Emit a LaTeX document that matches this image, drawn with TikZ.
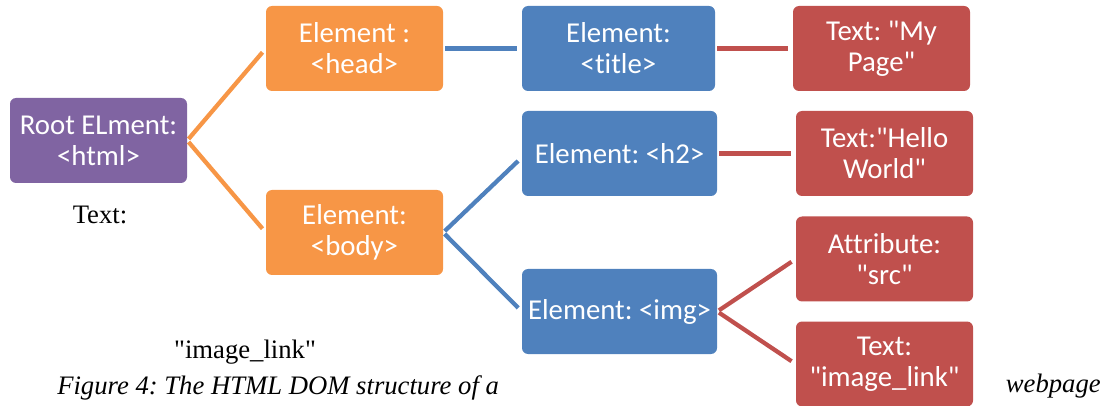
\documentclass[tikz,border=0pt]{standalone}
\usepackage{fontspec}
\setmainfont[Ligatures=NoCommon]{Liberation Serif}
\newfontfamily\boxfont[Ligatures=NoCommon]{Carlito}
\frenchspacing
\begin{document}
\begin{tikzpicture}[
  x=0.75pt, y=-0.75pt,
  box/.style={rounded corners=4.5pt, draw=none, text=white, align=center,
    inner sep=0pt, minimum height=63.75pt,
    font=\boxfont\fontsize{21.6}{23.25}\selectfont},
  wide/.style={minimum width=132.75pt},
  wider/.style={minimum width=146.25pt},
  root/.style={box, wide, fill=rootpurple},
  lvlone/.style={box, wide, fill=elemorange},
  lvltwo/.style={box, wider, fill=elemblue},
  leaf/.style={box, wide, fill=leafred},
  link/.style={line width=3.2pt, shorten <=1.5pt, shorten >=3.75pt},
  note/.style={font=\fontsize{20}{22}\selectfont, inner sep=0pt}
]
\definecolor{rootpurple}{HTML}{8064A2}
\definecolor{elemorange}{HTML}{F79646}
\definecolor{elemblue}{HTML}{4F81BD}
\definecolor{leafred}{HTML}{C0504D}
\newcommand{\dq}{\textquotedbl}

\useasboundingbox (0,0) rectangle (1104,406);

% tree nodes
\node[root]   (html)  at (98.5,140.5)  {Root ELment:\\<html>};
\node[lvlone] (head)  at (354.5,48.5)  {Element :\\<head>};
\node[lvlone] (body)  at (354.5,232.5) {Element:\\<body>};
\node[lvltwo, minimum width=144.75pt] (title) at (618.5,48.5) {Element:\\<title>};
\node[lvltwo] (h2)    at (619.5,153.5) {Element: <h2>};
\node[lvltwo] (img)   at (619.5,311.5) {Element: <img>};
\node[leaf]   (mypage) at (881.5,48.5)  {Text: \dq My\\Page\dq};
\node[leaf]   (hello)  at (884.5,153.5) {Text:\dq Hello\\World\dq};
\node[leaf]   (src)    at (884.5,259)   {Attribute:\\\dq src\dq};
\node[leaf]   (ilink)  at (884.5,364)   {Text:\\\dq image\_link\dq};

% connectors
\draw[link, elemorange] (html.east) -- (head.west);
\draw[link, elemorange] (html.east) -- (body.west);
\draw[link, elemblue] (head.east) -- (title.west);
\draw[link, elemblue] (body.east) -- ([yshift=-3pt]h2.west);
\draw[link, elemblue] (body.east) -- (img.west);
\draw[link, leafred] (title.east) -- (mypage.west);
\draw[link, leafred] (h2.east) -- (hello.west);
\draw[link, leafred] (img.east) -- (src.west);
\draw[link, leafred] (img.east) -- (ilink.west);

% loose text
\node[note] (t1) at (100,215) {Text:};
\node[note] (t2) at (245,352) {\dq image\_link\dq};
\node[note, anchor=west, font=\itshape\fontsize{20}{22}\selectfont] (cap) at (57,388) {Figure 4: The HTML DOM structure of a};
\node[note, anchor=east, font=\itshape\fontsize{20}{22}\selectfont] (cap2) at (1101,386) {webpage};
\end{tikzpicture}
\end{document}
